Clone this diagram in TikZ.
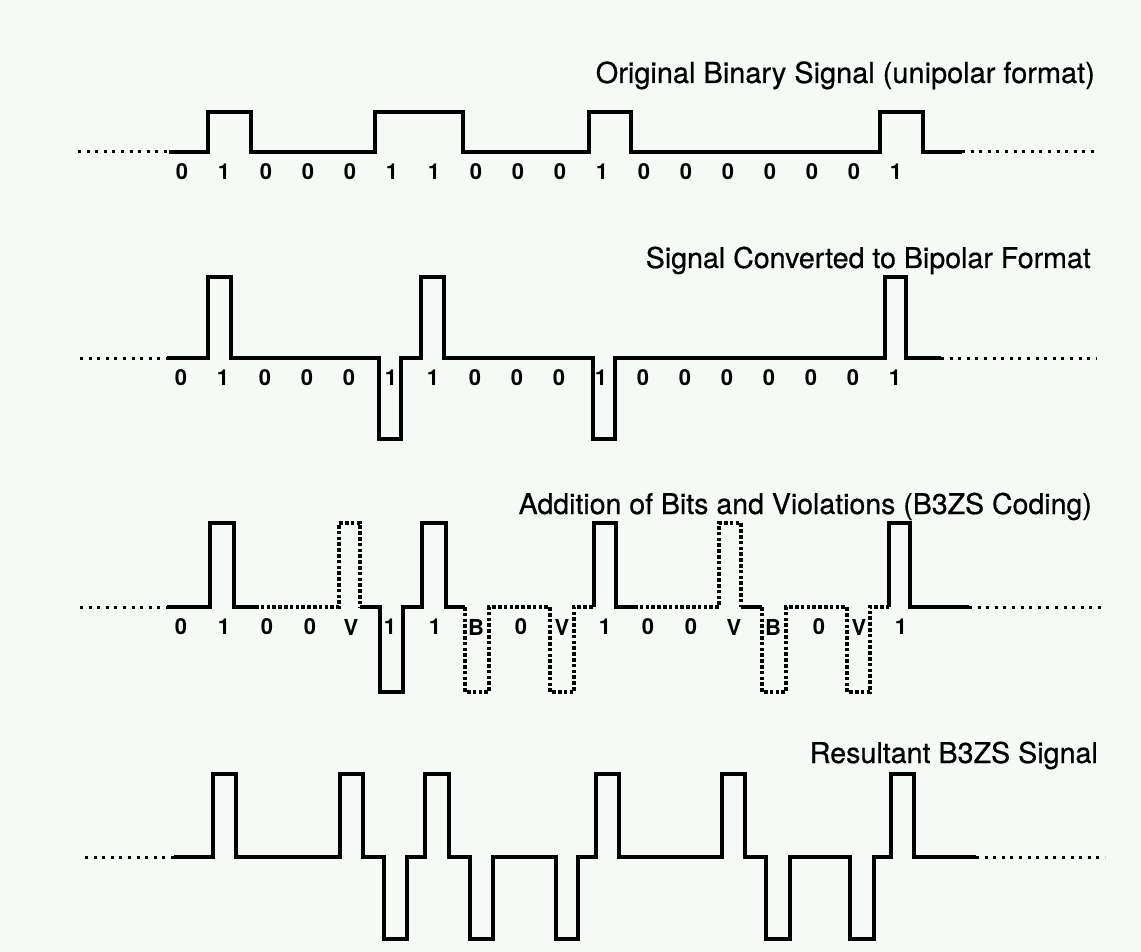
\documentclass[tikz,border=0pt]{standalone}
\usepackage{fontspec}
\setmainfont{TeX Gyre Heros}
\newfontfamily\ttlfont[FakeBold=0.6]{TeX Gyre Heros}
\definecolor{paper}{HTML}{F6FAF6}
\tikzset{
  sig/.style={line width=3.8pt, line join=miter, line cap=butt, black},
  sub/.style={line width=3.2pt, line join=miter, dash pattern=on 3.6pt off 2.2pt, black},
  lead/.style={line width=3pt, dash pattern=on 3pt off 5.6pt, black},
  bit/.style={font=\fontsize{22}{22}\selectfont\bfseries, inner sep=0pt, anchor=center},
  ttl/.style={anchor=base east, inner sep=0pt, font=\ttlfont}
}
\begin{document}
\begin{tikzpicture}[x=1pt,y=-1pt]
\fill[paper] (0,0) rectangle (1141,952);
\useasboundingbox (0,0) rectangle (1141,952);

% ---------- Row 1: original unipolar ----------
\node[ttl] (t1) at (1095,83) {\resizebox{499pt}{!}{Original Binary Signal (unipolar format)}};
\draw[lead] (78,152) -- (169,152);
\draw[sig] (169,152) -- (208,152) -- (208,112) -- (251,112) -- (251,152) -- (375,152) -- (375,112) -- (463,112) -- (463,152) -- (589,152) -- (589,112) -- (631,112) -- (631,152) -- (880,152) -- (880,112) -- (923,112) -- (923,152) -- (962,152);
\draw[lead] (962,152) -- (1095,152);
\foreach \t [count=\i from 0] in {0,1,0,0,0,1,1,0,0,0,1,0,0,0,0,0,0,1}
  \node[bit] (ra\i) at (182+42*\i,172) {\t};

% ---------- Row 2: bipolar ----------
\node[ttl] (t2) at (1091,268) {\resizebox{445pt}{!}{Signal Converted to Bipolar Format}};
\draw[lead] (80,358) -- (167,358);
\draw[sig] (167,358) -- (208,358) -- (208,277) -- (231,277) -- (231,358) -- (379,358) -- (379,439) -- (401,439) -- (401,358) -- (421,358) -- (421,277) -- (444,277) -- (444,358) -- (593,358) -- (593,439) -- (615,439) -- (615,358) -- (885,358) -- (885,277) -- (906,277) -- (906,358) -- (941,358);
\draw[lead] (941,358) -- (1096,358);
\foreach \t [count=\i from 0] in {0,1,0,0,0,1,1,0,0,0,1,0,0,0,0,0,0,1}
  \node[bit] (rb\i) at (181+42*\i,378) {\t};

% ---------- Row 3: B3ZS additions ----------
\node[ttl] (t3) at (1092,514) {\resizebox{573pt}{!}{Addition of Bits and Violations (B3ZS Coding)}};
\draw[lead] (80,607) -- (167,607);
\draw[sig] (167,607) -- (210,607) -- (210,523) -- (234,523) -- (234,607) -- (255,607);
\draw[sub] (255,607) -- (339,607) -- (339,523) -- (360,523) -- (360,607);
\draw[sig] (360,607) -- (380,607) -- (380,692) -- (403,692) -- (403,607) -- (422,607) -- (422,523) -- (446,523) -- (446,607) -- (465,607);
\draw[sub] (465,607) -- (465,692) -- (489,692) -- (489,607) -- (550,607) -- (550,692) -- (574,692) -- (574,607) -- (594,607);
\draw[sig] (594,607) -- (594,523) -- (616,523) -- (616,607) -- (634,607);
\draw[sub] (634,607) -- (719,607) -- (719,523) -- (741,523) -- (741,607);
\draw[sig] (741,607) -- (762,607);
\draw[sub] (762,607) -- (762,692) -- (786,692) -- (786,607) -- (847,607) -- (847,692) -- (870,692) -- (870,607) -- (889,607);
\draw[sig] (889,607) -- (889,523) -- (910,523) -- (910,607) -- (969,607);
\draw[lead] (969,607) -- (1101,607);
\foreach \xx/\t [count=\i from 0] in {181/0,224/1,267/0,310/0,351/V,390/1,435/1,476/B,521/0,562/V,605/1,648/0,691/0,734/V,773/B,819/0,859/V,901/1}
  \node[bit] (rc\i) at (\xx,627) {\t};

% ---------- Row 4: resultant B3ZS ----------
\node[ttl] (t4) at (1098,763) {\resizebox{288pt}{!}{Resultant B3ZS Signal}};
\draw[lead] (85,857) -- (174,857);
\draw[sig] (174,857) -- (213,857) -- (213,774) -- (236,774) -- (236,857) -- (340,857) -- (340,774) -- (363,774) -- (363,857) -- (384,857) -- (384,939) -- (407,939) -- (407,857) -- (425,857) -- (425,774) -- (449,774) -- (449,857) -- (470,857) -- (470,939) -- (493,939) -- (493,857) -- (556,857) -- (556,939) -- (578,939) -- (578,857) -- (596,857) -- (596,774) -- (619,774) -- (619,857) -- (722,857) -- (722,774) -- (745,774) -- (745,857) -- (766,857) -- (766,939) -- (790,939) -- (790,857) -- (850,857) -- (850,939) -- (874,939) -- (874,857) -- (891,857) -- (891,774) -- (914,774) -- (914,857) -- (976,857);
\draw[lead] (976,857) -- (1105,857);
\end{tikzpicture}
\end{document}
